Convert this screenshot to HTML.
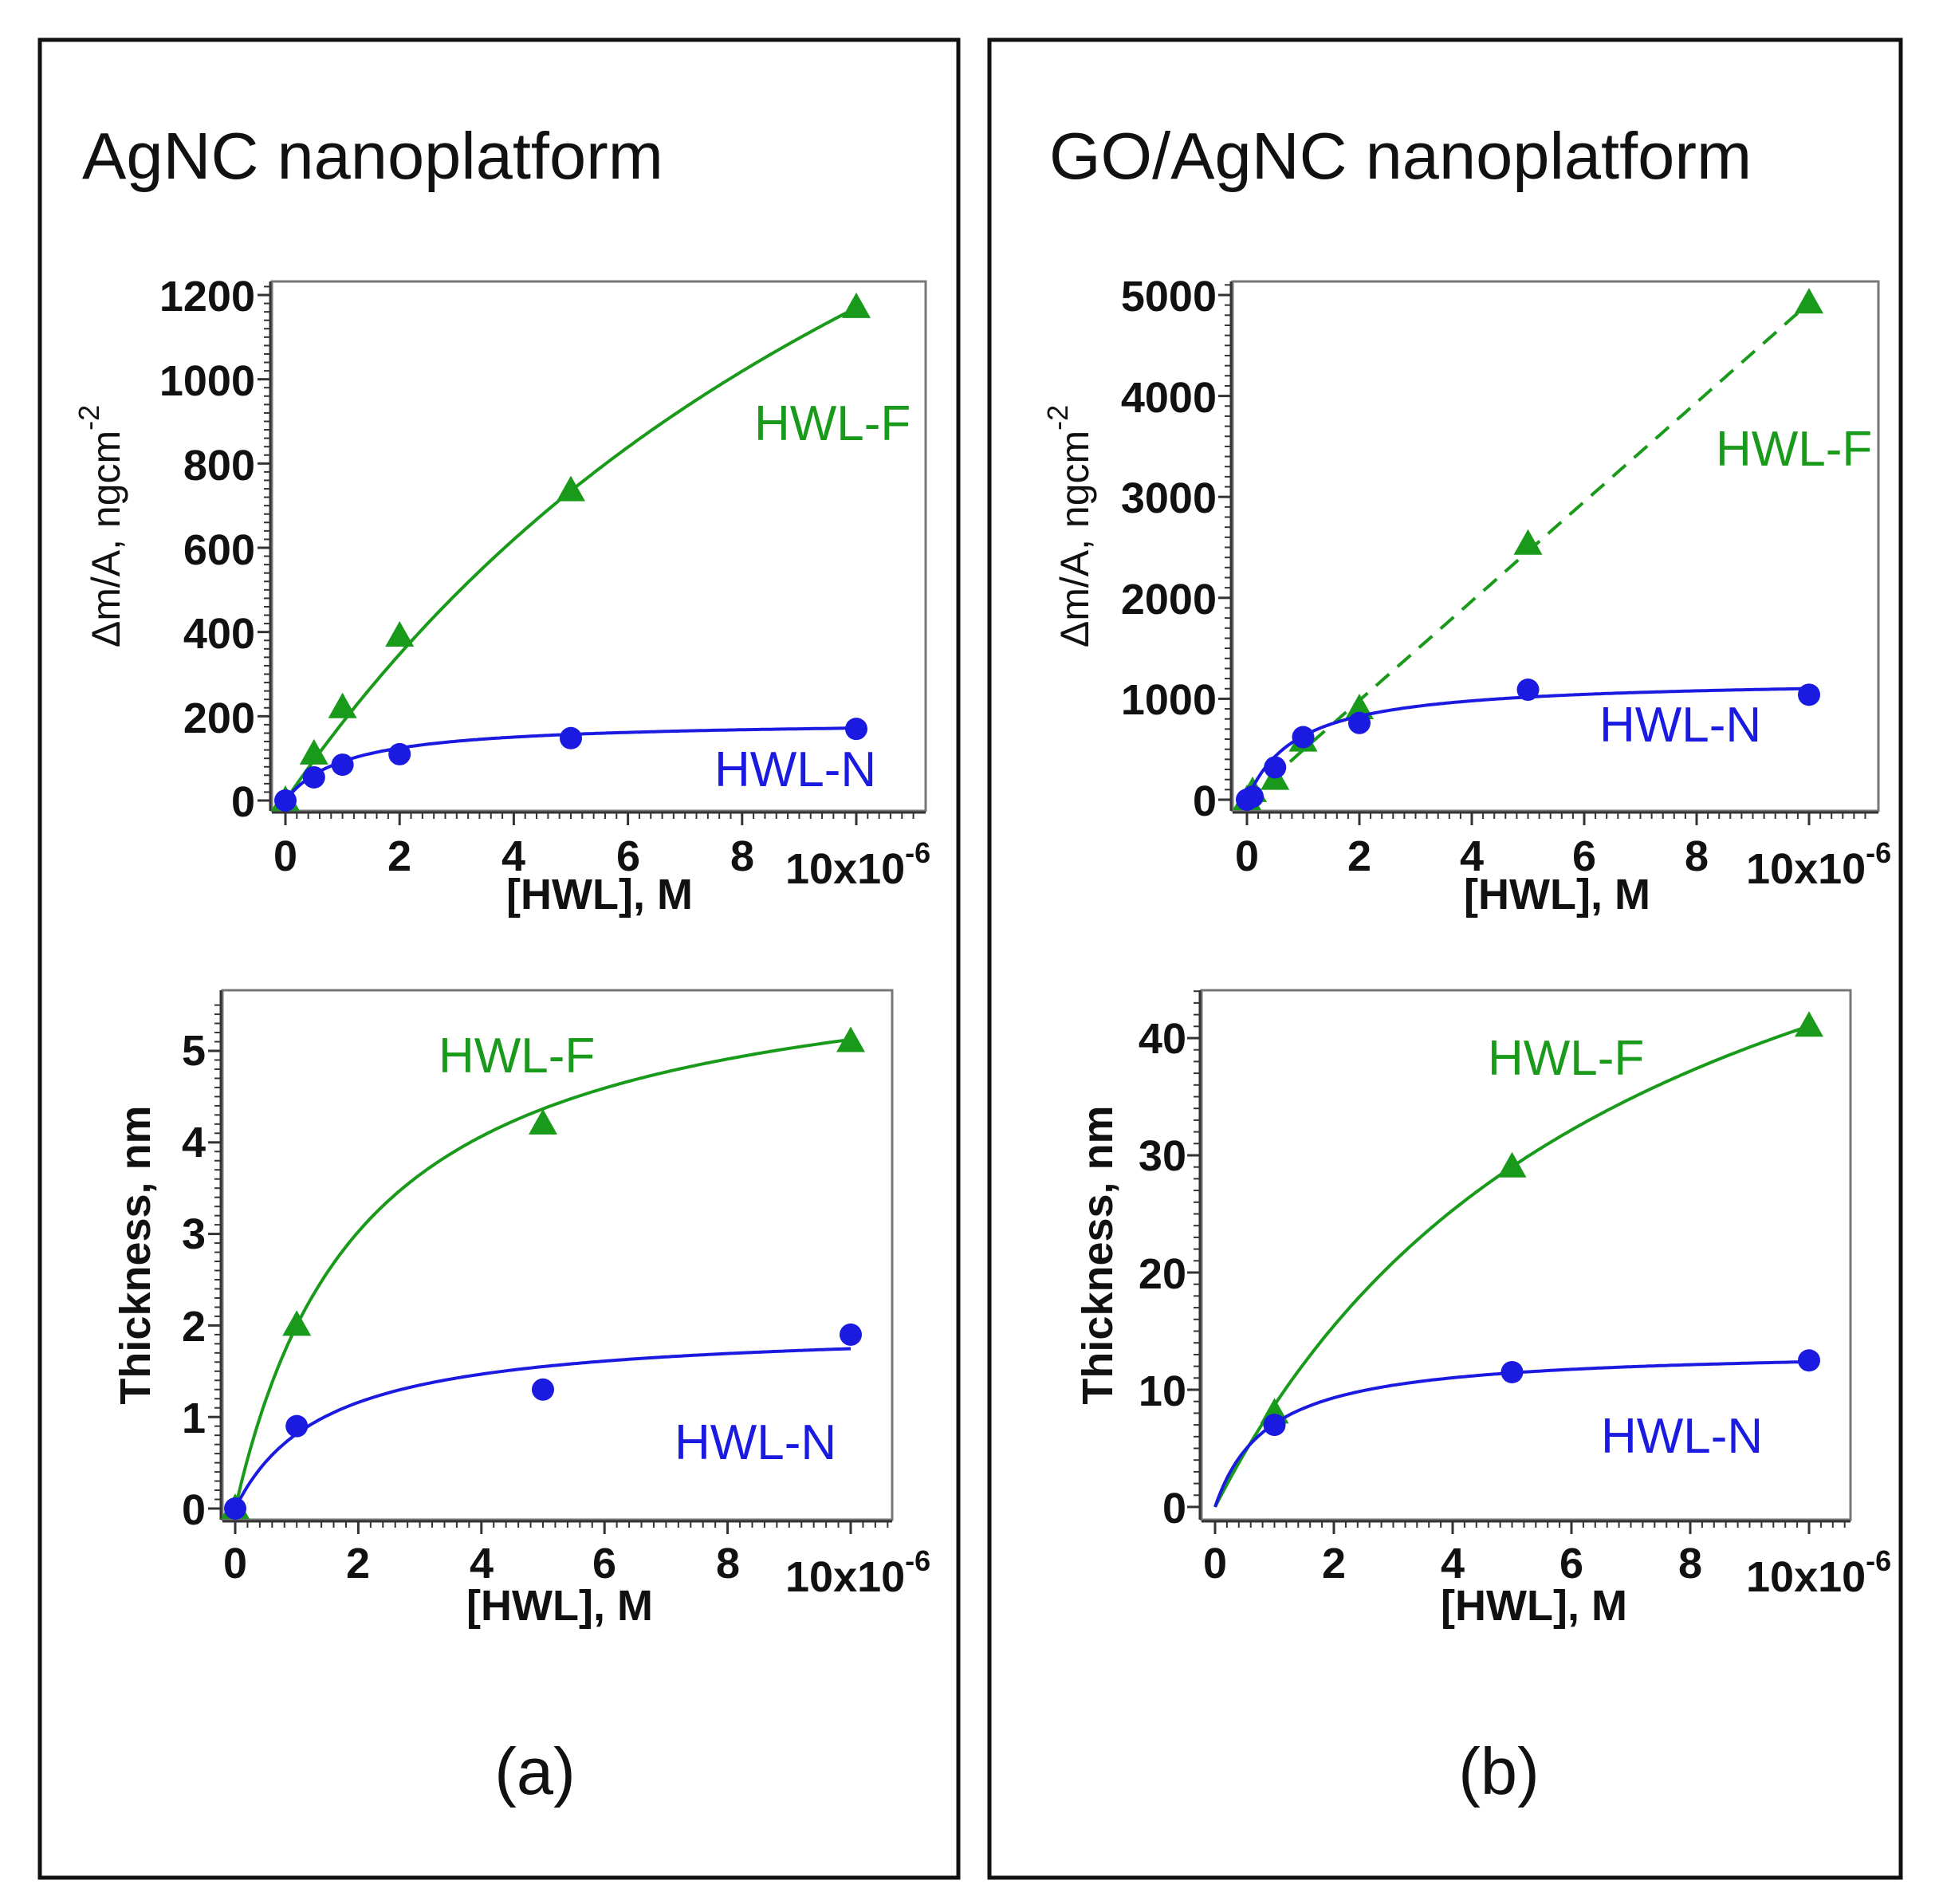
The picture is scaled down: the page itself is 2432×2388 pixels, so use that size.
<!DOCTYPE html>
<html><head><meta charset="utf-8"><style>
html,body{margin:0;padding:0;background:#fff}
svg{display:block}
text{font-family:"Liberation Sans",Arial,sans-serif}
.t{font-size:54px;font-weight:bold;fill:#111}
.ttl{font-size:83px;fill:#111}
.g{fill:#1a9a1a;font-size:62px}
.b{fill:#1a1ae0;font-size:62px}
</style></head><body>
<svg id="s" width="2432" height="2388" viewBox="0 0 2432 2388" xmlns="http://www.w3.org/2000/svg">
<rect x="0" y="0" width="2432" height="2388" fill="#fff"/>
<rect x="50" y="50" width="1152" height="2305" fill="none" stroke="#111" stroke-width="5"/>
<rect x="1241" y="50" width="1143" height="2305" fill="none" stroke="#111" stroke-width="5"/>
<text class="ttl" x="103" y="224">AgNC nanoplatform</text>
<text class="ttl" x="1316" y="224">GO/AgNC nanoplatform</text>
<text class="ttl" x="671" y="2250" text-anchor="middle">(a)</text>
<text class="ttl" x="1880" y="2250" text-anchor="middle">(b)</text>
<g id="plots"></g>
<g class="t" text-anchor="end">
<text x="320" y="390">1200</text><text x="320" y="496">1000</text><text x="320" y="602">800</text><text x="320" y="708">600</text><text x="320" y="813">400</text><text x="320" y="919">200</text><text x="320" y="1024">0</text>
</g>
<g class="t" text-anchor="middle">
<text x="358" y="1092">0</text><text x="501" y="1092">2</text><text x="644" y="1092">4</text><text x="788" y="1092">6</text><text x="931" y="1092">8</text>
<text x="752" y="1140">[HWL], M</text>
</g>
<text class="t" x="985" y="1108">10x10<tspan dy="-26" font-size="36">-6</tspan></text>
<text font-size="50" fill="#111" transform="translate(150,660) rotate(-90)" text-anchor="middle">Δm/A, ngcm<tspan dy="-26" font-size="36">-2</tspan></text>
<text class="g" x="946" y="552">HWL-F</text>
<text class="b" x="896" y="986">HWL-N</text>
<g class="t" text-anchor="end">
<text x="258" y="1912">0</text><text x="258" y="1797">1</text><text x="258" y="1682">2</text><text x="258" y="1566">3</text><text x="258" y="1451">4</text><text x="258" y="1336">5</text>
</g>
<g class="t" text-anchor="middle">
<text x="295" y="1979">0</text><text x="449" y="1979">2</text><text x="604" y="1979">4</text><text x="758" y="1979">6</text><text x="913" y="1979">8</text>
<text x="702" y="2032">[HWL], M</text>
</g>
<text class="t" x="985" y="1996">10x10<tspan dy="-26" font-size="36">-6</tspan></text>
<text class="t" font-size="52" transform="translate(188,1574) rotate(-90)" text-anchor="middle">Thickness, nm</text>
<text class="g" x="550" y="1345">HWL-F</text>
<text class="b" x="846" y="1830">HWL-N</text>
<g class="t" text-anchor="end">
<text x="1526" y="390">5000</text><text x="1526" y="517">4000</text><text x="1526" y="643">3000</text><text x="1526" y="770">2000</text><text x="1526" y="896">1000</text><text x="1526" y="1023">0</text>
</g>
<g class="t" text-anchor="middle">
<text x="1564" y="1092">0</text><text x="1705" y="1092">2</text><text x="1846" y="1092">4</text><text x="1987" y="1092">6</text><text x="2128" y="1092">8</text>
<text x="1953" y="1140">[HWL], M</text>
</g>
<text class="t" x="2190" y="1108">10x10<tspan dy="-26" font-size="36">-6</tspan></text>
<text font-size="50" fill="#111" transform="translate(1365,660) rotate(-90)" text-anchor="middle">Δm/A, ngcm<tspan dy="-26" font-size="36">-2</tspan></text>
<text class="g" x="2152" y="584">HWL-F</text>
<text class="b" x="2006" y="930">HWL-N</text>
<g class="t" text-anchor="end">
<text x="1488" y="1910">0</text><text x="1488" y="1763">10</text><text x="1488" y="1616">20</text><text x="1488" y="1468">30</text><text x="1488" y="1321">40</text>
</g>
<g class="t" text-anchor="middle">
<text x="1524" y="1979">0</text><text x="1673" y="1979">2</text><text x="1822" y="1979">4</text><text x="1971" y="1979">6</text><text x="2120" y="1979">8</text>
<text x="1924" y="2032">[HWL], M</text>
</g>
<text class="t" x="2190" y="1996">10x10<tspan dy="-26" font-size="36">-6</tspan></text>
<text class="t" font-size="52" transform="translate(1395,1574) rotate(-90)" text-anchor="middle">Thickness, nm</text>
<text class="g" x="1866" y="1348">HWL-F</text>
<text class="b" x="2008" y="1822">HWL-N</text>
</svg>
<script>
(function(){
var NS="http://www.w3.org/2000/svg",G=document.getElementById("plots");
function el(n,a){var e=document.createElementNS(NS,n);for(var k in a)e.setAttribute(k,a[k]);G.appendChild(e);return e;}
var GR="#1a9a1a",BL="#1a1ae0";
function plot(p){
 var X=function(v){return p.x0+(p.x10-p.x0)*v/10},Y=function(v){return p.y0+(p.yt-p.y0)*v/p.ymaxT};
 el("rect",{x:p.fx,y:p.fy,width:p.fw,height:p.fh,fill:"none",stroke:"#777","stroke-width":3});
 var ax=p.fx-2; el("line",{x1:ax,y1:p.fy,x2:ax,y2:p.fy+p.fh,stroke:"#333","stroke-width":3});
 var nmin=p.ymaxT/p.ystep*p.ysub, top=p.yextra||0;
 for(var i=0;i<=nmin+top;i++){var v=i*p.ystep/p.ysub,y=Y(v);if(y<p.fy)break;var maj=i%p.ysub==0;
  el("line",{x1:ax,y1:y,x2:ax-(maj?16:8),y2:y,stroke:"#333","stroke-width":maj?3:2});}
 var ay=p.fy+p.fh+2; el("line",{x1:p.fx,y1:ay,x2:p.fx+p.fw,y2:ay,stroke:"#333","stroke-width":3});
 for(var i=0;i<=55;i++){var v=i*0.2,x=X(v);if(x>p.fx+p.fw-5)break;var maj=i%10==0;
  el("line",{x1:x,y1:ay,x2:x,y2:ay+(maj?16:8),stroke:"#333","stroke-width":maj?3:2});}
 p.series.forEach(function(s){
  if(s.f){var d="";for(var k=0;k<=200;k++){var v=s.xmax*k/200;d+=(k?"L":"M")+X(v).toFixed(1)+","+Y(s.f(v)).toFixed(1);}
   var a={d:d,fill:"none",stroke:s.c,"stroke-width":4};if(s.dash)a["stroke-dasharray"]="22,14";el("path",a);}
  s.pts.forEach(function(q){var x=X(q[0]),y=Y(q[1]);
   if(s.tri)el("polygon",{points:(x)+","+(y-19)+" "+(x-18)+","+(y+13)+" "+(x+18)+","+(y+13),fill:s.c});
   else el("circle",{cx:x,cy:y,r:14,fill:s.c});});
 });
}
plot({fx:341,fy:353,fw:820,fh:664,x0:358,x10:1074,y0:1004,yt:370,ymaxT:1200,ystep:200,ysub:10,yextra:2,
 series:[{c:GR,tri:1,xmax:10,f:function(x){return 2866*x/(14.5+x)},pts:[[0,0],[0.5,110],[1,220],[2,390],[5,735],[10,1170]]},
 {c:BL,xmax:10,f:function(x){return 190*x/(1.05+x)},pts:[[0,0],[0.5,55],[1,85],[2,110],[5,148],[10,170]]}]});
plot({fx:279,fy:1242,fw:840,fh:664,x0:295,x10:1067,y0:1892,yt:1318,ymaxT:5,ystep:1,ysub:10,yextra:5,
 series:[{c:GR,tri:1,xmax:10,f:function(x){return 6.2*x/(2.1+x)},pts:[[0,0],[1,2],[5,4.2],[10,5.1]]},
 {c:BL,xmax:10,f:function(x){return 2.0*x/(1.45+x)},pts:[[0,0],[1,0.9],[5,1.3],[10,1.9]]}]});
plot({fx:1546,fy:353,fw:810,fh:664,x0:1564,x10:2269,y0:1003,yt:370,ymaxT:5000,ystep:1000,ysub:10,yextra:1,
 series:[{c:GR,tri:1,dash:1,xmax:10,f:function(x){return 492*x},pts:[[0,0],[0.1,80],[0.5,200],[1,580],[2,900],[5,2530],[10,4920]]},
 {c:BL,xmax:10,f:function(x){return 1200*x/(0.9+x)},pts:[[0,0],[0.1,30],[0.5,320],[1,620],[2,760],[5,1090],[10,1040]]}]});
plot({fx:1507,fy:1242,fw:814,fh:664,x0:1524,x10:2269,y0:1890,yt:1302,ymaxT:40,ystep:10,ysub:10,yextra:4,
 series:[{c:GR,tri:1,xmax:10,f:function(x){return 70*x/(7.06+x)},pts:[[1,8],[5,29],[10,41]]},
 {c:BL,xmax:10,f:function(x){return 13.5*x/(0.9+x)},pts:[[1,7],[5,11.5],[10,12.5]]}]});
})();
</script>
</body></html>
